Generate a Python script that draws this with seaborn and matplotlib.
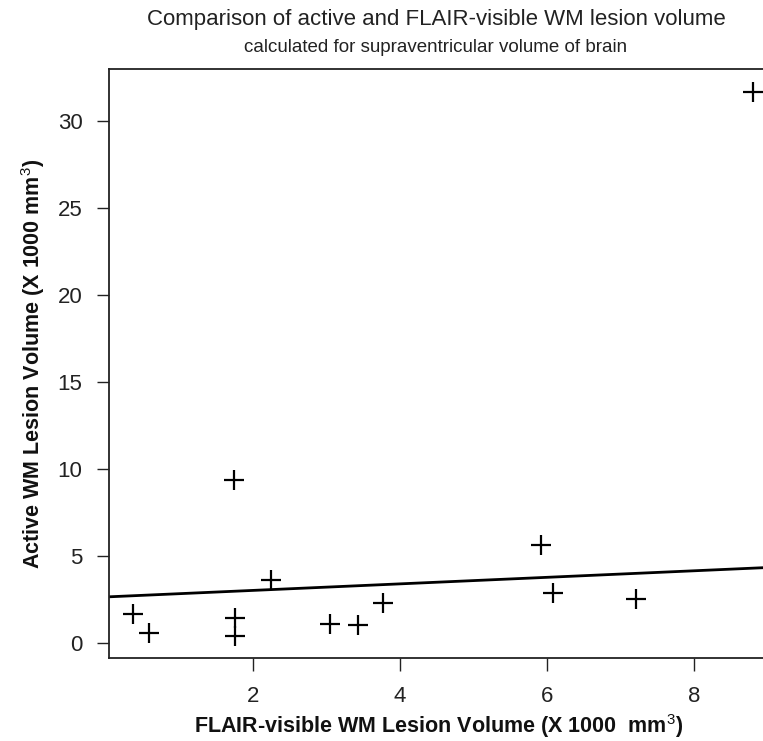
import matplotlib
matplotlib.use("Agg")
import matplotlib.pyplot as plt
import seaborn as sns
import pandas as pd

# Data
flair_volume = [0.37, 0.58, 1.74, 1.76, 1.76, 2.25, 3.05, 3.43, 3.77, 5.92, 6.08, 7.21, 8.80]
active_volume = [1.65, 0.56, 9.37, 1.45, 0.40, 3.62, 1.09, 1.02, 2.28, 5.63, 2.86, 2.53, 31.7]
fit_intercept = 2.65
fit_slope = 0.188
x_ticks = [2, 4, 6, 8]
y_ticks = [0, 5, 10, 15, 20, 25, 30]

title = "Comparison of active and FLAIR-visible WM lesion volume"
subtitle = "calculated for supraventricular volume of brain"
x_label = "FLAIR-visible WM Lesion Volume (X 1000  mm$^3$)"
y_label = "Active WM Lesion Volume (X 1000 mm$^3$)"

df = pd.DataFrame({"flair": flair_volume, "active": active_volume})

sns.set_style("ticks")
plt.rcParams["font.family"] = ["Liberation Sans", "DejaVu Sans"]
plt.rcParams["mathtext.fontset"] = "custom"
plt.rcParams["mathtext.rm"] = "Liberation Sans"
plt.rcParams["mathtext.bf"] = "Liberation Sans:bold"

fig = plt.figure(figsize=(7.63, 7.41), dpi=100)
ax = fig.add_axes([109 / 763, (741 - 658) / 741, 658.6 / 763, (658 - 69) / 741])

sns.scatterplot(data=df, x="flair", y="active", marker="+", s=190,
                color="black", linewidth=1.6, ax=ax, legend=False, zorder=3)

xlim = (0.04, 9.0)
ylim = (-0.86, 33.0)
ax.set_xlim(*xlim)
ax.set_ylim(*ylim)
ax.axline((0, fit_intercept), slope=fit_slope, color="black", linewidth=2.0)

ax.set_xticks(x_ticks)
ax.set_yticks(y_ticks)
ax.tick_params(axis="both", direction="out", length=9, width=1.0, labelsize=16,
               color="#222222", labelcolor="#222222")
ax.tick_params(axis="x", pad=11)
ax.tick_params(axis="y", pad=10)
for s in ax.spines.values():
    s.set_linewidth(1.3)
    s.set_color("#222222")

ax.set_xlabel(x_label, fontsize=15.5, fontweight="bold", labelpad=4, color="#111111")
ax.set_ylabel(y_label, fontsize=15.5, fontweight="bold", labelpad=8, color="#111111")

cx = 0.5 * (109 + 763) / 763
fig.text(cx, 1 - 19 / 741, title, ha="center", va="center",
         fontsize=16, color="#222222")
fig.text(cx, 1 - 48 / 741, subtitle, ha="center", va="center",
         fontsize=13.5, color="#222222")

fig.savefig("out.png", dpi=100)
